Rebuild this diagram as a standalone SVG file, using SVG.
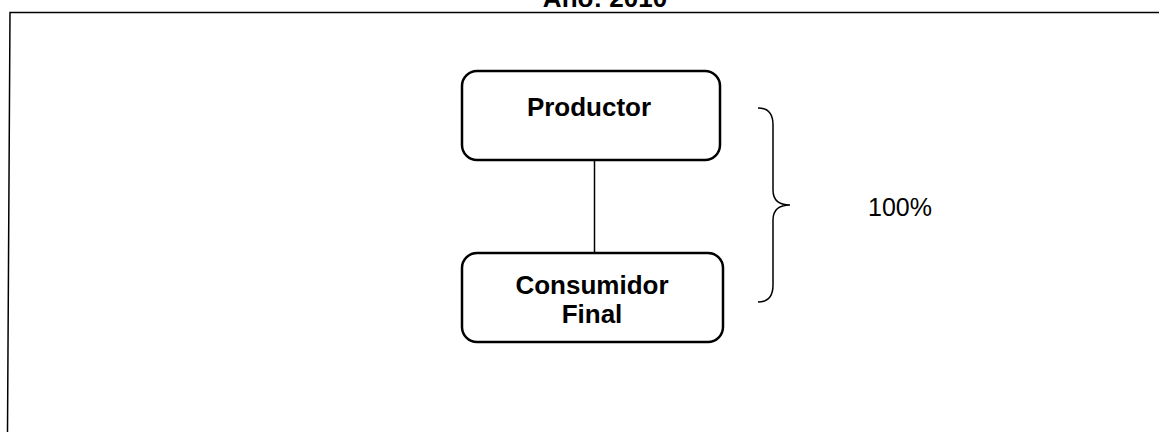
<svg xmlns="http://www.w3.org/2000/svg" width="1159" height="432" viewBox="0 0 1159 432">
<style>
.box{fill:#fff;stroke:#000;stroke-width:2.5}
.lbl{font-family:"Liberation Sans",Arial,sans-serif;font-weight:bold;font-size:26px;fill:#000;text-anchor:middle}
.pct{font-family:"Liberation Sans",Arial,sans-serif;font-size:25px;fill:#000}
.ln{stroke:#000;stroke-width:1.5;fill:none}
</style>
<rect width="1159" height="432" fill="#fff"/>
<text x="605" y="7" class="lbl" font-size="33">Año: 2010</text>
<path class="ln" stroke-width="2" d="M1159 12.5 L10 12.5 L7.5 432"/>
<g id="connectors">
<line class="ln" x1="594.5" y1="160" x2="594.5" y2="253"/>
<path class="ln" stroke-width="2.2" d="M758 108 Q773 108 773 125 L773 190 Q773 205 790 205 Q773 205 773 220 L773 285 Q773 302 758 302"/>
</g>
<g id="productor">
<rect class="box" x="462" y="71" width="258" height="89" rx="15"/>
<text class="lbl" x="589" y="116" font-size="27">Productor</text>
</g>
<g id="consumidor">
<rect class="box" x="462" y="253" width="261" height="89" rx="15"/>
<text class="lbl" x="592" y="294" font-size="27">Consumidor</text>
<text class="lbl" x="592" y="323" font-size="27">Final</text>
</g>
<g id="pct">
<text class="pct" x="868" y="216">100%</text>
</g>
</svg>
